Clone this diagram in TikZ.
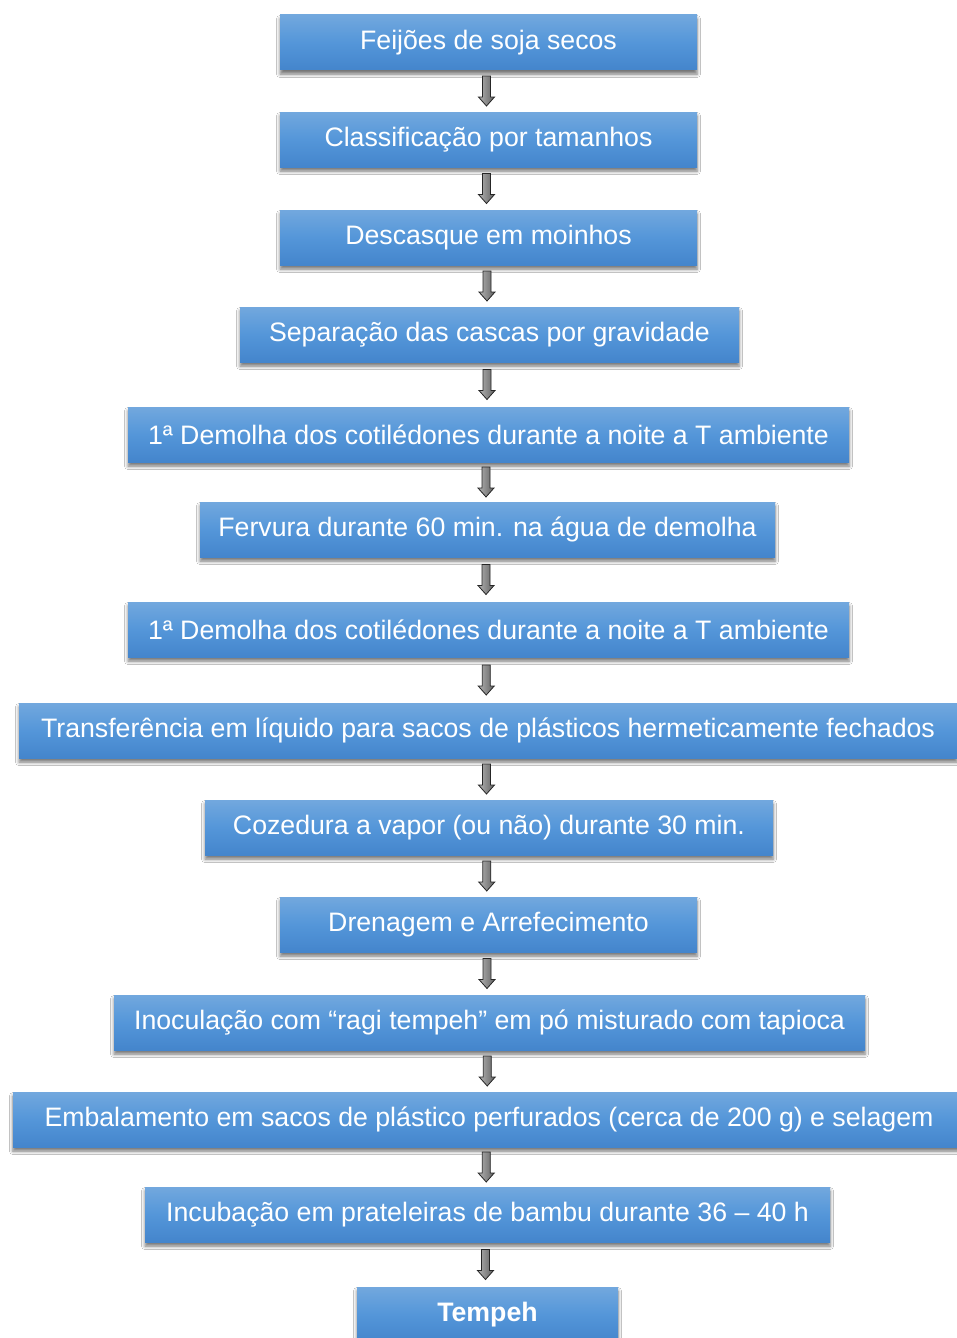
\documentclass[tikz,border=0pt]{standalone}
\usepackage{fontspec}
\setmainfont{Liberation Sans}
\usetikzlibrary{shadows.blur,calc}
\definecolor{boxtop}{RGB}{114,168,222}
\definecolor{boxmid}{RGB}{84,150,217}
\definecolor{boxbot}{RGB}{68,133,204}
\tikzset{
  stepbox/.style={rectangle, inner sep=0pt, minimum height=55pt,
    top color=boxtop, bottom color=boxbot, middle color=boxmid,
    text=white, font=\fontsize{26.7}{31}\selectfont,
    blur shadow={shadow xshift=0pt, shadow yshift=-4pt, shadow blur radius=3.5pt, shadow opacity=55}},
  flowarrow/.style={draw=black!85, line width=0.8pt, line join=miter,
    left color=black!30, right color=black!62}
}
\begin{document}
\begin{tikzpicture}[x=1pt,y=-1pt]
\useasboundingbox (0,0) rectangle (957,1338);
\clip (0,0) rectangle (957,1338);
\fill[white] (0,0) rectangle (957,1338);

\node[stepbox, minimum width=417pt] (s1)  at (488.5,42.5)  {Feijões de soja secos};
\node[stepbox, minimum width=417pt] (s2)  at (488.5,139.5) {Classificação por tamanhos};
\node[stepbox, minimum width=417pt] (s3)  at (488.5,237.5) {Descasque em moinhos};
\node[stepbox, minimum width=499pt] (s4)  at (489.5,334.5) {Separação das cascas por gravidade};
\node[stepbox, minimum width=721pt] (s5)  at (488.5,434.5) {1ª Demolha dos cotilédones durante a noite a T ambiente};
\node[stepbox, minimum width=575pt] (s6)  at (487.5,529.5) {Fervura durante 60 min. na água de demolha};
\node[stepbox, minimum width=721pt] (s7)  at (488.5,629.5) {1ª Demolha dos cotilédones durante a noite a T ambiente};
\node[stepbox, minimum width=938pt] (s8)  at (488,730.5)   {Transferência em líquido para sacos de plásticos hermeticamente fechados};
\node[stepbox, minimum width=568pt] (s9)  at (489,827.5)   {Cozedura a vapor (ou não) durante 30 min.};
\node[stepbox, minimum width=417pt] (s10) at (488.5,924.5) {Drenagem e Arrefecimento};
\node[stepbox, minimum width=751pt] (s11) at (489.5,1022.5) {Inoculação com “ragi tempeh” em pó misturado com tapioca};
\node[stepbox, minimum width=952pt] (s12) at (489,1119.5)  {Embalamento em sacos de plástico perfurados (cerca de 200 g) e selagem};
\node[stepbox, minimum width=685pt] (s13) at (487.5,1214.5) {Incubação em prateleiras de bambu durante 36 – 40 h};
\node[stepbox, minimum width=261pt, font=\fontsize{26.7}{31}\selectfont\bfseries] (s14) at (487.5,1314.5) {Tempeh};

% block arrows between consecutive steps (shaft 8 wide, head 16 wide)
\foreach \a/\b in {s1/s2,s2/s3,s3/s4,s4/s5,s5/s6,s6/s7,s7/s8,s8/s9,s9/s10,s10/s11,s11/s12,s12/s13,s13/s14}{
  \coordinate (m-\a) at ($(\a.south)!0.5!(\b.north)$);
  \draw[flowarrow] ([shift={(-6,-15)}]m-\a) -- ++(8,0) -- ++(0,21) -- ++(4,0)
    -- ++(-8,9) -- ++(-8,-9) -- ++(4,0) -- cycle;
}
\end{tikzpicture}
\end{document}
